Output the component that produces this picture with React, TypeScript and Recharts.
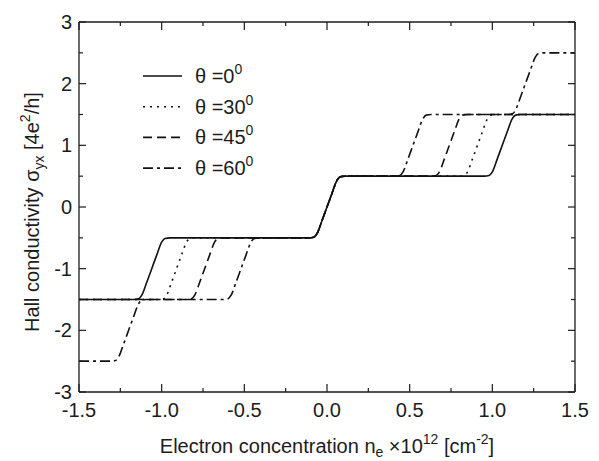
import React from 'react';
import { LineChart, Line, XAxis, YAxis } from 'recharts';

// Hall conductivity steps
const theta0X = [-1.5, -1.17, -1.14, -1.12, -1.09, -1.06, -1.03, -1.0, -0.98, -0.95,
  -0.11, -0.08, -0.06, -0.03, 0, 0.03, 0.06, 0.08, 0.11,
  0.95, 0.98, 1.0, 1.03, 1.06, 1.09, 1.12, 1.14, 1.17, 1.5];
const theta0Y = [-1.5, -1.5, -1.49, -1.43, -1.22, -1.0, -0.78, -0.57, -0.51, -0.5,
  -0.5, -0.49, -0.43, -0.22, 0, 0.22, 0.43, 0.49, 0.5,
  0.5, 0.51, 0.57, 0.78, 1.0, 1.22, 1.43, 1.49, 1.5, 1.5];

const theta30X = [-1.5, -1.02, -0.99, -0.97, -0.94, -0.91, -0.88, -0.85, -0.83, -0.8,
  -0.11, -0.08, -0.06, -0.03, 0, 0.03, 0.06, 0.08, 0.11,
  0.8, 0.83, 0.85, 0.88, 0.91, 0.94, 0.97, 0.99, 1.02, 1.5];
const theta30Y = [-1.5, -1.5, -1.49, -1.43, -1.22, -1.0, -0.78, -0.57, -0.51, -0.5,
  -0.5, -0.49, -0.43, -0.22, 0, 0.22, 0.43, 0.49, 0.5,
  0.5, 0.51, 0.57, 0.78, 1.0, 1.22, 1.43, 1.49, 1.5, 1.5];

const theta45X = [-1.5, -0.85, -0.82, -0.8, -0.77, -0.74, -0.71, -0.68, -0.66, -0.63,
  -0.11, -0.08, -0.06, -0.03, 0, 0.03, 0.06, 0.08, 0.11,
  0.63, 0.66, 0.68, 0.71, 0.74, 0.77, 0.8, 0.82, 0.85, 1.5];
const theta45Y = [-1.5, -1.5, -1.49, -1.43, -1.22, -1.0, -0.78, -0.57, -0.51, -0.5,
  -0.5, -0.49, -0.43, -0.22, 0, 0.22, 0.43, 0.49, 0.5,
  0.5, 0.51, 0.57, 0.78, 1.0, 1.22, 1.43, 1.49, 1.5, 1.5];

const theta60X = [-1.5, -1.31, -1.28, -1.26, -1.23, -1.2, -1.17, -1.14, -1.12, -1.09,
  -0.63, -0.6, -0.58, -0.55, -0.52, -0.49, -0.46, -0.44, -0.41,
  -0.11, -0.08, -0.06, -0.03, 0, 0.03, 0.06, 0.08, 0.11,
  0.41, 0.44, 0.46, 0.49, 0.52, 0.55, 0.58, 0.6, 0.63,
  1.09, 1.12, 1.14, 1.17, 1.2, 1.23, 1.26, 1.28, 1.31, 1.5];
const theta60Y = [-2.5, -2.5, -2.49, -2.43, -2.22, -2.0, -1.78, -1.57, -1.51, -1.5,
  -1.5, -1.49, -1.43, -1.22, -1.0, -0.78, -0.57, -0.51, -0.5,
  -0.5, -0.49, -0.43, -0.22, 0, 0.22, 0.43, 0.49, 0.5,
  0.5, 0.51, 0.57, 0.78, 1.0, 1.22, 1.43, 1.49, 1.5,
  1.5, 1.51, 1.57, 1.78, 2.0, 2.22, 2.43, 2.49, 2.5, 2.5];

const angles = ['0', '30', '45', '60'];
const dashes = ['', '2 5', '9 5', '10 4 3 4'];

const xTicks = [-1.5, -1.25, -1, -0.75, -0.5, -0.25, 0, 0.25, 0.5, 0.75, 1, 1.25, 1.5];
const yTicks = [-3, -2.5, -2, -1.5, -1, -0.5, 0, 0.5, 1, 1.5, 2, 2.5, 3];

const zip = (xs: number[], ys: number[]) => xs.map((x, i) => ({ x, y: ys[i] }));
const series = [
  zip(theta0X, theta0Y),
  zip(theta30X, theta30Y),
  zip(theta45X, theta45Y),
  zip(theta60X, theta60Y),
];

const FONT = '"Liberation Sans", Arial, sans-serif';
const INK = '#1c1c1c';
const FS = 20;
const SUB = 14;
const isMajor = (v: number, step: number) => Math.abs(v / step - Math.round(v / step)) < 1e-6;

const BottomTick = ({ x, y, payload }: any) => {
  const v = payload.value;
  const major = isMajor(v, 0.5);
  return (
    <g>
      <line x1={x} x2={x} y1={y} y2={y - (major ? 8 : 4)} stroke={INK} strokeWidth={1.2} />
      {major && (
        <text x={x} y={y + 25} textAnchor="middle" fontSize={FS} fontFamily={FONT} fill={INK}>
          {v.toFixed(1)}
        </text>
      )}
    </g>
  );
};

const TopTick = ({ x, y, payload }: any) => {
  const major = isMajor(payload.value, 0.5);
  return <line x1={x} x2={x} y1={y} y2={y + (major ? 8 : 4)} stroke={INK} strokeWidth={1.2} />;
};

const LeftTick = ({ x, y, payload }: any) => {
  const v = payload.value;
  const major = isMajor(v, 1);
  return (
    <g>
      <line x1={x} x2={x + (major ? 7 : 4)} y1={y} y2={y} stroke={INK} strokeWidth={1.2} />
      {major && (
        <text x={x - 7} y={y} dy="0.35em" textAnchor="end" fontSize={FS} fontFamily={FONT} fill={INK}>
          {v}
        </text>
      )}
    </g>
  );
};

const RightTick = ({ x, y, payload }: any) => {
  const major = isMajor(payload.value, 1);
  return <line x1={x} x2={x - (major ? 7 : 4)} y1={y} y2={y} stroke={INK} strokeWidth={1.2} />;
};

const ThetaLegend = () => (
  <g>
    {angles.map((a, i) => {
      const cy = 76 + i * 30.7;
      return (
        <g key={a}>
          <line x1={143} x2={182} y1={cy} y2={cy} stroke="#111" strokeWidth={1.6} strokeDasharray={dashes[i] || undefined} />
          <text x={195} y={cy + 7} fontSize={FS} fontFamily={FONT} fill={INK}>
            {'\u03b8 =' + a}
            <tspan dy={-9} fontSize={SUB}>0</tspan>
          </text>
        </g>
      );
    })}
  </g>
);

export default function App() {
  return (
    <div style={{ position: 'absolute', left: 0, top: 0, width: 599, height: 461, background: '#fff' }}>
      <LineChart width={599} height={461} margin={{ top: 12, right: 14, bottom: 29, left: 19 }}>
        <XAxis
          type="number" dataKey="x" domain={[-1.5, 1.5]} ticks={xTicks} interval={0}
          allowDataOverflow height={40} tickSize={0} tickMargin={0} tickLine={false}
          axisLine={{ stroke: INK, strokeWidth: 1.3 }} tick={<BottomTick />}
        />
        <XAxis
          xAxisId="top" orientation="top" type="number" dataKey="x" domain={[-1.5, 1.5]} ticks={xTicks}
          interval={0} allowDataOverflow height={10} tickSize={0} tickMargin={0} tickLine={false}
          axisLine={{ stroke: INK, strokeWidth: 1.3 }} tick={<TopTick />}
        />
        <YAxis
          type="number" domain={[-3, 3]} ticks={yTicks} interval={0} allowDataOverflow width={60}
          tickSize={0} tickMargin={0} tickLine={false}
          axisLine={{ stroke: INK, strokeWidth: 1.3 }} tick={<LeftTick />}
        />
        <YAxis
          yAxisId="right" orientation="right" type="number" domain={[-3, 3]} ticks={yTicks} interval={0}
          allowDataOverflow width={10} tickSize={0} tickMargin={0} tickLine={false}
          axisLine={{ stroke: INK, strokeWidth: 1.3 }} tick={<RightTick />}
        />
        {series.map((d, i) => (
          <Line
            key={angles[i]} data={d} dataKey="y" type="monotone" stroke="#111" strokeWidth={1.6}
            strokeDasharray={dashes[i] || undefined} dot={false} activeDot={false} isAnimationActive={false}
          />
        ))}
        <ThetaLegend />
        <text x={327} y={453} textAnchor="middle" fontSize={FS} fontFamily={FONT} fill={INK}>
          Electron concentration n
          <tspan dy={4} fontSize={SUB}>e</tspan>
          <tspan dy={-4}>{'\u00a0\u00d710'}</tspan>
          <tspan dy={-9} fontSize={SUB}>12</tspan>
          <tspan dy={9}>{'\u00a0[cm'}</tspan>
          <tspan dy={-9} fontSize={SUB}>-2</tspan>
          <tspan dy={9}>]</tspan>
        </text>
        <text x={0} y={0} transform="translate(39 212) rotate(-90)" textAnchor="middle" fontSize={FS} fontFamily={FONT} fill={INK}>
          Hall conductivity σ
          <tspan dy={5} fontSize={SUB}>yx</tspan>
          <tspan dy={-5}>{'\u00a0[4e'}</tspan>
          <tspan dy={-9} fontSize={SUB}>2</tspan>
          <tspan dy={9}>/h]</tspan>
        </text>
      </LineChart>
    </div>
  );
}
